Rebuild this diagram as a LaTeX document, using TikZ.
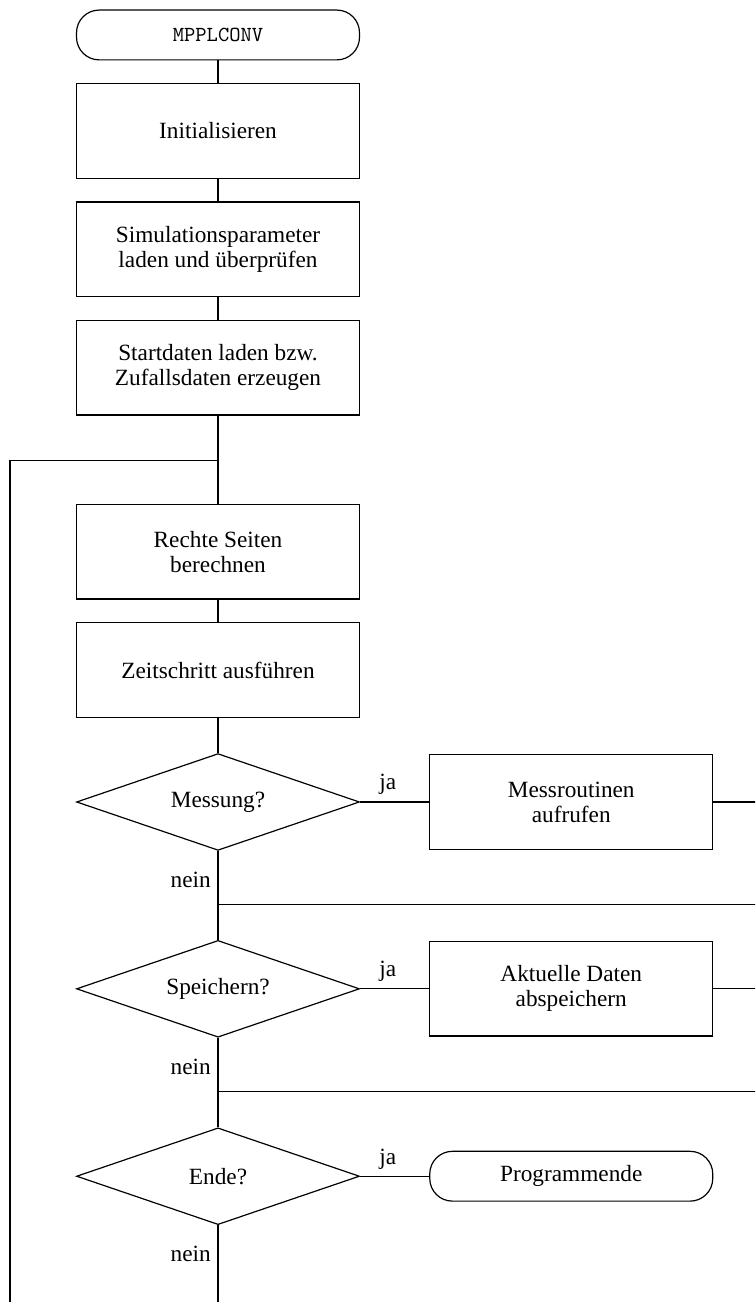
\documentclass[tikz,border=0pt]{standalone}
\usepackage{fontspec}
\setmainfont{Liberation Serif}
\usepackage{tikz}
\usetikzlibrary{positioning, shapes.geometric}

\begin{document}
\begin{tikzpicture}[
    semithick,
    font=\fontsize{11.7}{12.6}\selectfont,
    box/.style={rectangle, draw, minimum height=1.67cm, minimum width=5cm,
                align=center},
    term/.style={rectangle, rounded corners=0.4cm, draw, minimum height=0.88cm,
                minimum width=5cm, align=center},
    decision/.style={diamond, draw, aspect=2.92, minimum height=1.71cm,
                minimum width=5cm, inner sep=0pt, align=center},
    line/.style={draw, semithick}
  ]
  % picture is cut off at the right and at the bottom
  \clip (-3.852,0.618) rectangle (9.488,-22.386);

  % Main column
  \node[term] (start) {\fontsize{10.8}{12}\selectfont\ttfamily MPPLCONV};
  \node[box] (init)   [below=0.4cm of start] {Initialisieren};
  \node[box] (simpar) [below=0.4cm of init] {Simulationsparameter\\laden und überprüfen};
  \node[box] (startd) [below=0.4cm of simpar] {Startdaten laden bzw.\\Zufallsdaten erzeugen};
  \coordinate[below=0.8cm of startd] (loopin);
  \node[box] (rechte) [below=1.56cm of startd] {Rechte Seiten\\berechnen};
  \node[box] (zeit)   [below=0.4cm of rechte] {Zeitschritt ausführen};

  % Decisions
  \node[decision] (mess)   [below=0.62cm of zeit] {Messung?};
  \coordinate[below=0.95cm of mess] (join1);
  \node[decision] (speich) [below=1.57cm of mess] {Speichern?};
  \coordinate[below=0.95cm of speich] (join2);
  \node[decision] (ende)   [below=1.58cm of speich] {Ende?};
  \coordinate[below=1.6cm of ende] (bottom);

  % Right: branches
  \node[box]  (messr)    [right=1.22cm of mess] {Messroutinen\\aufrufen};
  \node[box]  (aktuell)  [right=1.22cm of speich] {Aktuelle Daten\\abspeichern};
  \node[term] (progende) [right=1.22cm of ende] {Programmende};

  % loop and right edge
  \coordinate[left=3.675cm of loopin] (loopx);
  \coordinate (redge) at (9.7,0);

  % Connections
  \draw[line] (start) -- (init);
  \draw[line] (init) -- (simpar);
  \draw[line] (simpar) -- (startd);
  \draw[line] (startd) -- (rechte);
  \draw[line] (rechte) -- (zeit);
  \draw[line] (zeit) -- (mess);
  \draw[line] (mess) -- (messr) node[pos=0.4, above] {ja};
  \draw[line] (mess) -- (speich) node[pos=0, left, yshift=-0.51cm] {nein};
  \draw[line] (speich) -- (aktuell) node[pos=0.4, above] {ja};
  \draw[line] (speich) -- (ende) node[pos=0, left, yshift=-0.51cm] {nein};
  \draw[line] (ende) -- (progende) node[pos=0.4, above] {ja};
  \draw[line] (ende) -- (bottom) node[pos=0, left, yshift=-0.51cm] {nein};
  \draw[line] (messr) -- (messr -| redge);
  \draw[line] (aktuell) -- (aktuell -| redge);
  \draw[line] (join1) -- (join1 -| redge);
  \draw[line] (join2) -- (join2 -| redge);
  \draw[line] (loopx |- bottom) -- (loopx) -- (loopin);
\end{tikzpicture}
\end{document}
